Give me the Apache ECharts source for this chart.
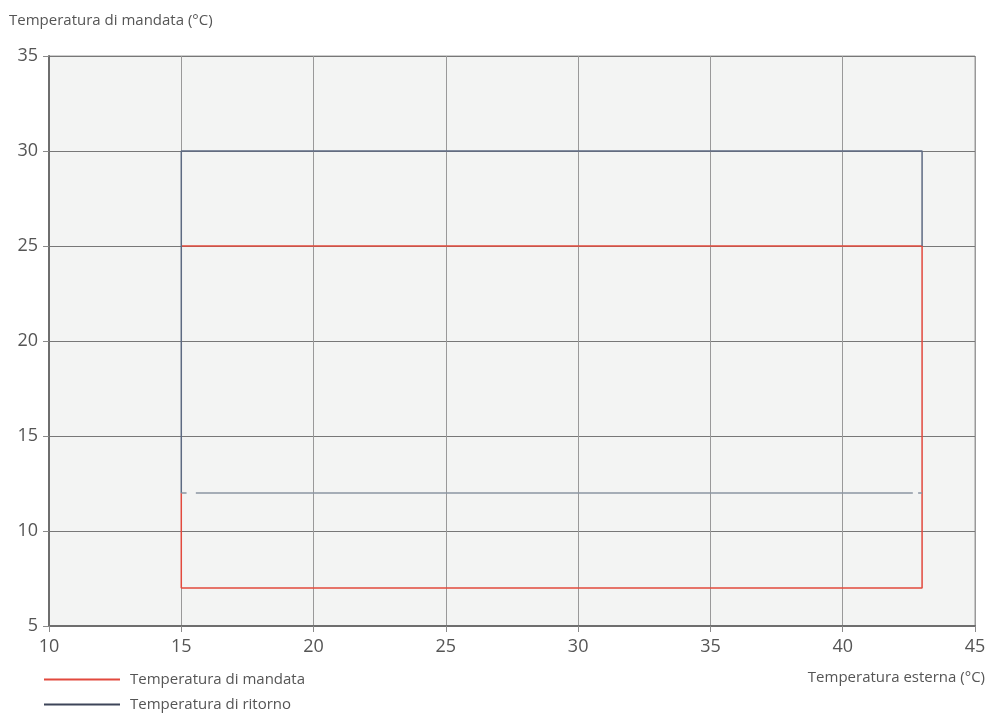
<!DOCTYPE html>
<html><head><meta charset="utf-8">
<script src="https://cdn.jsdelivr.net/npm/echarts@6/dist/echarts.min.js"></script>
<style>html,body{margin:0;padding:0;background:#fff}#c{width:989px;height:713px}</style>
</head><body><div id="c"></div>
<script>
const xTicks = [10, 15, 20, 25, 30, 35, 40, 45];
const yTicks = [5, 10, 15, 20, 25, 30, 35];
const seriesNames = ['Temperatura di mandata', 'Temperatura di ritorno'];
// Temperatura di mandata (red) outline
const mandata = [[15, 25], [43, 25], [43, 7], [15, 7], [15, 12]];
// Temperatura di ritorno (blue) outline
const ritorno = [[15, 12], [15, 30], [43, 30], [43, 25]];
// Ritorno lower limit at 12 °C (with gaps near ends)
const ritornoBottom = [[15, 12], [15.2, 12], ['-', '-'], [15.55, 12], [42.65, 12], ['-', '-'], [42.85, 12], [43, 12]];

const red = '#e2493d';
const blue = '#5d6a82';
const fontFam = '"Open Sans", "Noto Sans", sans-serif';

const legendBase = {
  orient: 'horizontal', left: 39, itemWidth: 76, itemHeight: 2, icon: 'rect',
  textStyle: { color: '#555', fontSize: 15, fontFamily: fontFam, padding: [0, 0, 0, 5] }
};

const chart = echarts.init(document.getElementById('c'));
chart.setOption({
  animation: false,
  textStyle: { fontFamily: fontFam },
  grid: { left: 49, right: 14, top: 56, bottom: 87, show: true, backgroundColor: '#f3f4f3', borderColor: '#9a9a9a', borderWidth: 1 },
  graphic: [
    { type: 'text', left: 9, top: 13, style: { text: 'Temperatura di mandata (°C)', fill: '#555', font: '15px ' + fontFam } },
    { type: 'text', right: 4, top: 670, style: { text: 'Temperatura esterna (°C)', fill: '#555', font: '15px ' + fontFam } }
  ],
  legend: [
    Object.assign({}, legendBase, { top: 667, data: [seriesNames[0]] }),
    Object.assign({}, legendBase, { top: 692, data: [seriesNames[1]] })
  ],
  xAxis: {
    type: 'value', min: 10, max: 45, interval: 5,
    axisLine: { show: true, lineStyle: { color: '#6e6e6e', width: 2 } },
    axisTick: { show: true, length: 6, lineStyle: { color: '#8a8a8a' } },
    axisLabel: { color: '#555', fontSize: 18, margin: 12, fontFamily: fontFam, formatter: v => xTicks.includes(v) ? String(v) : '' },
    splitLine: { show: true, lineStyle: { color: '#999', width: 1 } }
  },
  yAxis: {
    type: 'value', min: 5, max: 35, interval: 5,
    axisLine: { show: true, lineStyle: { color: '#6e6e6e', width: 2 } },
    axisTick: { show: true, length: 6, lineStyle: { color: '#8a8a8a' } },
    axisLabel: { color: '#555', fontSize: 18, margin: 11, fontFamily: fontFam, formatter: v => yTicks.includes(v) ? String(v) : '' },
    splitLine: { show: true, lineStyle: { color: '#777', width: 1 } }
  },
  series: [
    { name: seriesNames[0], type: 'line', data: mandata, symbol: 'none', color: red, lineStyle: { color: red, width: 1.5 }, z: 2 },
    { name: seriesNames[1], type: 'line', data: ritorno, symbol: 'none', color: '#3d4559', lineStyle: { color: blue, width: 1.5 }, z: 3 },
    { name: 'ritornoBottom', type: 'line', data: ritornoBottom, symbol: 'none', connectNulls: false, lineStyle: { color: '#8c95a3', width: 1.5 }, z: 3 }
  ]
});
</script></body></html>
